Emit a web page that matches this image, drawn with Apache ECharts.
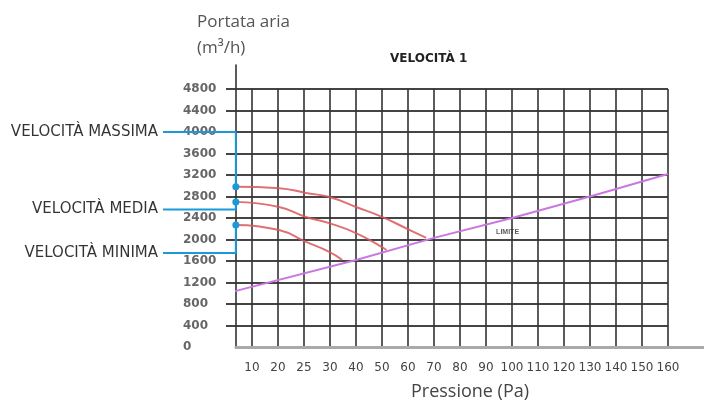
<!DOCTYPE html>
<html>
<head>
<meta charset="utf-8">
<script src="https://cdn.jsdelivr.net/npm/echarts@6/dist/echarts.min.js"></script>
<style>
html, body { margin: 0; padding: 0; background: #fff; }
#main { width: 704px; height: 409px; }
</style>
</head>
<body>
<div id="main"></div>
<script>
// etichette asse X (colonne equidistanti, indice 0..16)
var pressioneLabels = ['10', '20', '25', '30', '40', '50', '60', '70', '80', '90', '100', '110', '120', '130', '140', '150', '160'];
var portataTicks = [0, 400, 800, 1200, 1600, 2000, 2400, 2800, 3200, 3600, 4000, 4400, 4800];

// curve [indice colonna, portata m3/h]
var velMassima = [[-0.62, 2980], [1.04, 2955], [2.08, 2865], [2.97, 2790], [4.0, 2605], [5.0, 2420], [6.05, 2180], [6.7, 2030]];
var velMedia = [[-0.62, 2700], [1.04, 2605], [2.08, 2420], [2.97, 2305], [4.0, 2120], [5.0, 1860], [5.17, 1805]];
var velMinima = [[-0.62, 2270], [1.04, 2175], [2.08, 1955], [2.97, 1770], [3.47, 1620]];
var limite = [[-0.65, 1040], [4, 1620], [7, 2030], [10, 2400], [13, 2800], [16, 3220]];

// richiami delle legende a sinistra
var nomiVelocita = ['VELOCITÀ MASSIMA', 'VELOCITÀ MEDIA', 'VELOCITÀ MINIMA'];
var richiamoMassima = [[-0.62, 2980], [-0.62, 4000], [-3.42, 4000]];
var richiamoMedia = [[-0.62, 2700], [-0.62, 2560], [-3.42, 2560]];
var richiamoMinima = [[-0.62, 2270], [-0.62, 1750], [-3.42, 1750]];

var myChart = echarts.init(document.getElementById('main'));

function richiamo(punti) {
	return {
		type : 'line',
		xAxisIndex : 2,
		yAxisIndex : 2,
		symbol : 'none',
		silent : true,
		z : 5,
		lineStyle : { color : '#1a9ad9', width : 2 },
		data : punti.map(function(p, i) {
			var item = { value : p };
			if (i === 0) {
				item.symbol = 'circle';
				item.symbolSize = 7;
				item.itemStyle = { color : '#1a9ad9' };
			}
			return item;
		})
	};
}

function curva(punti, colore) {
	return {
		type : 'line',
		xAxisIndex : 0,
		yAxisIndex : 0,
		smooth : true,
		clip : false,
		symbol : 'none',
		z : 3,
		lineStyle : { color : colore, width : 2, opacity : 0.85 },
		data : punti
	};
}

function asseNascosto(grid, min, max) {
	return {
		type : 'value',
		gridIndex : grid,
		min : min,
		max : max,
		axisLine : { show : false },
		axisTick : { show : false },
		axisLabel : { show : false },
		splitLine : { show : false }
	};
}

var richiami = [ richiamoMassima, richiamoMedia, richiamoMinima ];

myChart.setOption({
	animation : false,
	title : [ {
		text : 'VELOCITÀ 1',
		left : 385,
		top : 48,
		textStyle : { fontSize : 12, fontWeight : 'bold', color : '#222', fontFamily : 'DejaVu Sans' }
	}, {
		text : 'Portata aria\n(m³/h)',
		left : 192,
		top : 4,
		textStyle : { fontSize : 17, fontWeight : 'normal', color : '#555', fontFamily : 'Open Sans', lineHeight : 26 }
	} ],
	grid : [ {
		left : 226,
		right : 36,
		top : 89,
		bottom : 62
	}, {
		left : 236,
		right : 0,
		top : 65,
		bottom : 62
	}, {
		left : 0,
		right : 0,
		top : 89,
		bottom : 62
	} ],
	xAxis : [ {
		type : 'value',
		gridIndex : 0,
		min : -1,
		max : 16,
		interval : 1,
		axisLine : { show : false },
		axisTick : { show : false },
		splitLine : { show : true, showMinLine : false, lineStyle : { color : '#333', width : 1.6 } },
		axisLabel : {
			margin : 15,
			fontSize : 12,
			color : '#444',
			fontFamily : 'DejaVu Sans',
			formatter : function(v) {
				return v >= 0 ? pressioneLabels[v] : '';
			}
		}
	}, {
		type : 'value',
		gridIndex : 1,
		min : 0,
		max : 1,
		axisLine : { show : true, lineStyle : { color : '#aaa', width : 3 } },
		axisTick : { show : false },
		axisLabel : { show : false },
		splitLine : { show : false },
		name : 'Pressione (Pa)',
		nameLocation : 'middle',
		nameGap : 36,
		nameTextStyle : { fontSize : 18, color : '#444', fontFamily : 'Open Sans' }
	}, asseNascosto(2, -9.69, 17.385) ],
	yAxis : [ {
		type : 'value',
		gridIndex : 0,
		min : portataTicks[0],
		max : portataTicks[portataTicks.length - 1],
		interval : 400,
		axisLine : { show : false },
		axisTick : { show : false },
		splitLine : { show : true, showMinLine : false, lineStyle : { color : '#444', width : 2 } },
		axisLabel : {
			align : 'left',
			margin : 43,
			fontSize : 12,
			fontWeight : 'bold',
			color : '#666',
			fontFamily : 'DejaVu Sans',
			formatter : function(v) {
				return String(v);
			}
		}
	}, {
		type : 'value',
		gridIndex : 1,
		min : 0,
		max : 1,
		axisLine : { show : true, lineStyle : { color : '#333', width : 1.6 } },
		axisTick : { show : false },
		axisLabel : { show : false },
		splitLine : { show : false }
	}, asseNascosto(2, portataTicks[0], portataTicks[portataTicks.length - 1]) ],
	series : [
		curva(velMassima, '#d9575c'),
		curva(velMedia, '#d9575c'),
		curva(velMinima, '#d9575c'),
		{
			type : 'line',
			xAxisIndex : 0,
			yAxisIndex : 0,
			symbol : 'none',
			clip : false,
			z : 4,
			lineStyle : { color : '#c978df', width : 2 },
			data : limite
		},
		{
			type : 'scatter',
			xAxisIndex : 0,
			yAxisIndex : 0,
			symbolSize : 0,
			silent : true,
			label : {
				show : true,
				position : 'inside',
				formatter : 'LIMITE',
				fontSize : 7,
				fontWeight : 'bold',
				color : '#333'
			},
			data : [ [ 9.83, 2140 ] ]
		},
		richiamo(richiamoMassima),
		richiamo(richiamoMedia),
		richiamo(richiamoMinima),
		{
			type : 'scatter',
			xAxisIndex : 2,
			yAxisIndex : 2,
			symbolSize : 0,
			silent : true,
			z : 6,
			label : {
				show : true,
				position : 'left',
				distance : 5,
				formatter : function(p) {
					return nomiVelocita[p.dataIndex];
				},
				color : '#000',
				textBorderWidth : 0,
				fontSize : 15,
				fontFamily : 'DejaVu Sans'
			},
			data : richiami.map(function(r) {
				return r[r.length - 1];
			})
		}
	]
});
</script>
</body>
</html>
